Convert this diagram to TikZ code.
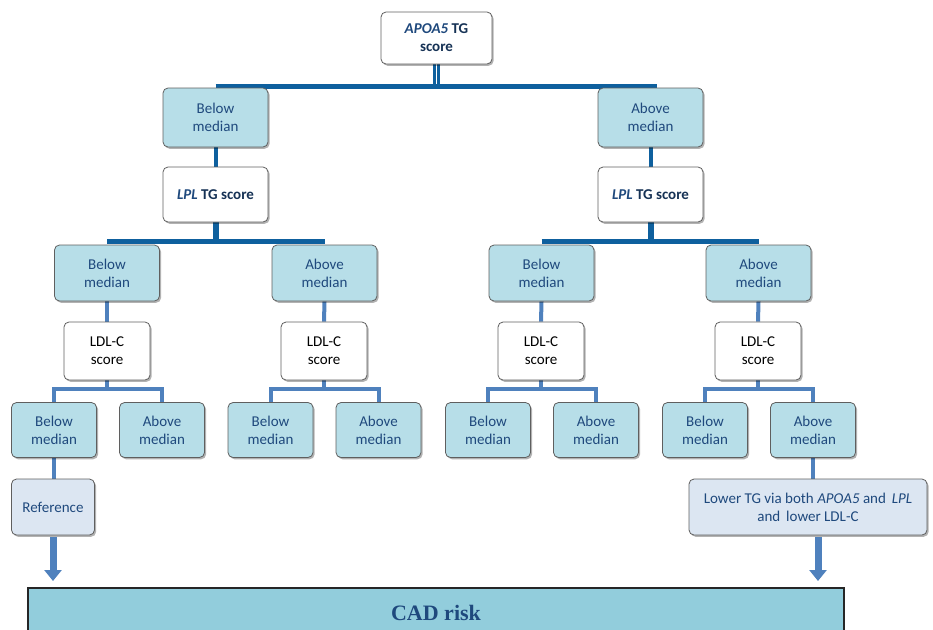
\documentclass[tikz,border=0pt]{standalone}
\usepackage{fontspec}
\setmainfont{Carlito}
\newfontfamily\cadfont{Liberation Serif}
\usetikzlibrary{shadows,arrows.meta,calc,backgrounds}
\definecolor{txtblue}{RGB}{31,73,125}
\definecolor{txtdark}{RGB}{22,50,85}
\definecolor{lblue}{RGB}{183,222,232}
\definecolor{refblue}{RGB}{220,230,242}
\definecolor{cadblue}{RGB}{146,205,220}
\definecolor{darkcon}{RGB}{14,96,158}
\definecolor{lightcon}{RGB}{79,129,189}
\definecolor{bordergray}{RGB}{95,95,95}
\begin{document}
\begin{tikzpicture}[x=1pt,y=-1pt,
  base/.style={draw=bordergray, line width=0.8pt, rounded corners=5pt, align=center,
    text=txtblue, inner sep=0pt, font=\fontsize{15}{18}\selectfont,
    drop shadow={shadow xshift=1.6pt, shadow yshift=-1.8pt, opacity=0.3, fill=black}},
  bluebox/.style={base, fill=lblue},
  whitebox/.style={base, fill=white},
  refbox/.style={base, fill=refblue},
  l1/.style={bluebox, minimum width=105pt, minimum height=59pt},
  l3/.style={bluebox, minimum width=105pt, minimum height=56pt},
  l5/.style={bluebox, minimum width=85pt, minimum height=55pt},
  ldl/.style={whitebox, minimum width=86pt, minimum height=58pt, text=black},
  lpl/.style={whitebox, minimum width=105pt, minimum height=55pt},
  dk/.style={draw=darkcon, line width=4.5pt},
  lt/.style={draw=lightcon, line width=4pt},
  bigarrow/.style={draw=lightcon, line width=7pt, shorten <=2pt,
    -{Triangle[width=17pt,length=11pt]}},
  cadbox/.style={draw=black!85, line width=1.5pt, fill=cadblue, minimum width=816pt,
    minimum height=50pt, inner sep=0pt, text=txtblue,
    font=\cadfont\bfseries\fontsize{22}{24}\selectfont}
]
\useasboundingbox (0,0) rectangle (933,629);

% nodes
\node[whitebox, minimum width=111pt, minimum height=52pt] (apoa) at (436.5,38)
  {\textbf{\textit{APOA5}} \textbf{\textcolor{txtdark}{TG}}\\\textbf{\textcolor{txtdark}{score}}};

\node[l1] (b1) at (215.5,117.5) {Below\\median};
\node[l1] (a1) at (650.5,117.5) {Above\\median};

\node[lpl] (lplL) at (215.5,194.5) {\textbf{\textit{LPL}} \textbf{\textcolor{txtdark}{TG score}}};
\node[lpl] (lplR) at (650.5,194.5) {\textbf{\textit{LPL}} \textbf{\textcolor{txtdark}{TG score}}};

\node[l3] (b2L) at (107,273) {Below\\median};
\node[l3] (a2L) at (324.5,273) {Above\\median};
\node[l3] (b2R) at (541.5,273) {Below\\median};
\node[l3] (a2R) at (758.5,273) {Above\\median};

\node[ldl] (ldl1) at (107,351) {LDL-C\\score};
\node[ldl] (ldl2) at (324,351) {LDL-C\\score};
\node[ldl] (ldl3) at (541,351) {LDL-C\\score};
\node[ldl] (ldl4) at (758,351) {LDL-C\\score};

\node[l5] (b31) at (54,430) {Below\\median};
\node[l5] (a31) at (162,430) {Above\\median};
\node[l5] (b32) at (270.5,430) {Below\\median};
\node[l5] (a32) at (378.5,430) {Above\\median};
\node[l5] (b33) at (488,430) {Below\\median};
\node[l5] (a33) at (596,430) {Above\\median};
\node[l5] (b34) at (705,430) {Below\\median};
\node[l5] (a34) at (813,430) {Above\\median};

\node[refbox, minimum width=83pt, minimum height=56pt] (ref) at (53,507) {Reference};
\node[refbox, minimum width=238pt, minimum height=56pt] (low) at (808,507)
  {Lower TG via both \textit{APOA5} and\, \textit{LPL}\\and\, lower LDL-C};

\node[cadbox] (cad) at (436,613) {CAD risk};

\coordinate (tb) at (0,86);
\coordinate (tr) at (657,86);
\coordinate (mb) at (0,241);
\coordinate (lb) at (0,389);
\coordinate (ae) at (0,581);

\begin{pgfonlayer}{background}
  % top level
  \draw[draw=darkcon, line width=2.6pt, double=white, double distance=1.8pt]
    (apoa.south) -- (apoa.south |- tb);
  \draw[dk, line width=5pt] (b1.north |- tb) -- (tr);
  % level 1 to LPL
  \draw[dk, line width=4pt] (b1.south) -- (lplL.north);
  \draw[dk, line width=4pt] (a1.south) -- (lplR.north);
  % LPL to level 3
  \draw[dk, line width=6pt] (lplL.south) -- (lplL.south |- mb);
  \draw[dk, line width=5pt] (b2L.north |- mb) -- (a2L.north |- mb);
  \draw[dk, line width=6pt] (lplR.south) -- (lplR.south |- mb);
  \draw[dk, line width=5pt] (b2R.north |- mb) -- (a2R.north |- mb);
  % level 3 to LDL
  \foreach \u/\v in {b2L/ldl1, a2L/ldl2, b2R/ldl3, a2R/ldl4}
    \draw[lt] (\u.south) -- (\v.north);
  % LDL to level 5
  \foreach \s/\l/\r in {ldl1/b31/a31, ldl2/b32/a32, ldl3/b33/a33, ldl4/b34/a34}{
    \draw[lt] (\s.south) -- (\s.south |- lb);
    \draw[lt, line join=miter] (\l.north) -- (\l.north |- lb) -- (\r.north |- lb) -- (\r.north);
  }
  % to outcome boxes
  \draw[lt] (b31.south) -- (ref.north -| b31.south);
  \draw[lt] (a34.south) -- (low.north -| a34.south);
\end{pgfonlayer}

% arrows to CAD risk
\draw[bigarrow] (ref.south) -- (ref.south |- ae);
\draw[bigarrow] ([xshift=10pt]low.south) -- ([xshift=10pt]low.south |- ae);
\end{tikzpicture}
\end{document}
